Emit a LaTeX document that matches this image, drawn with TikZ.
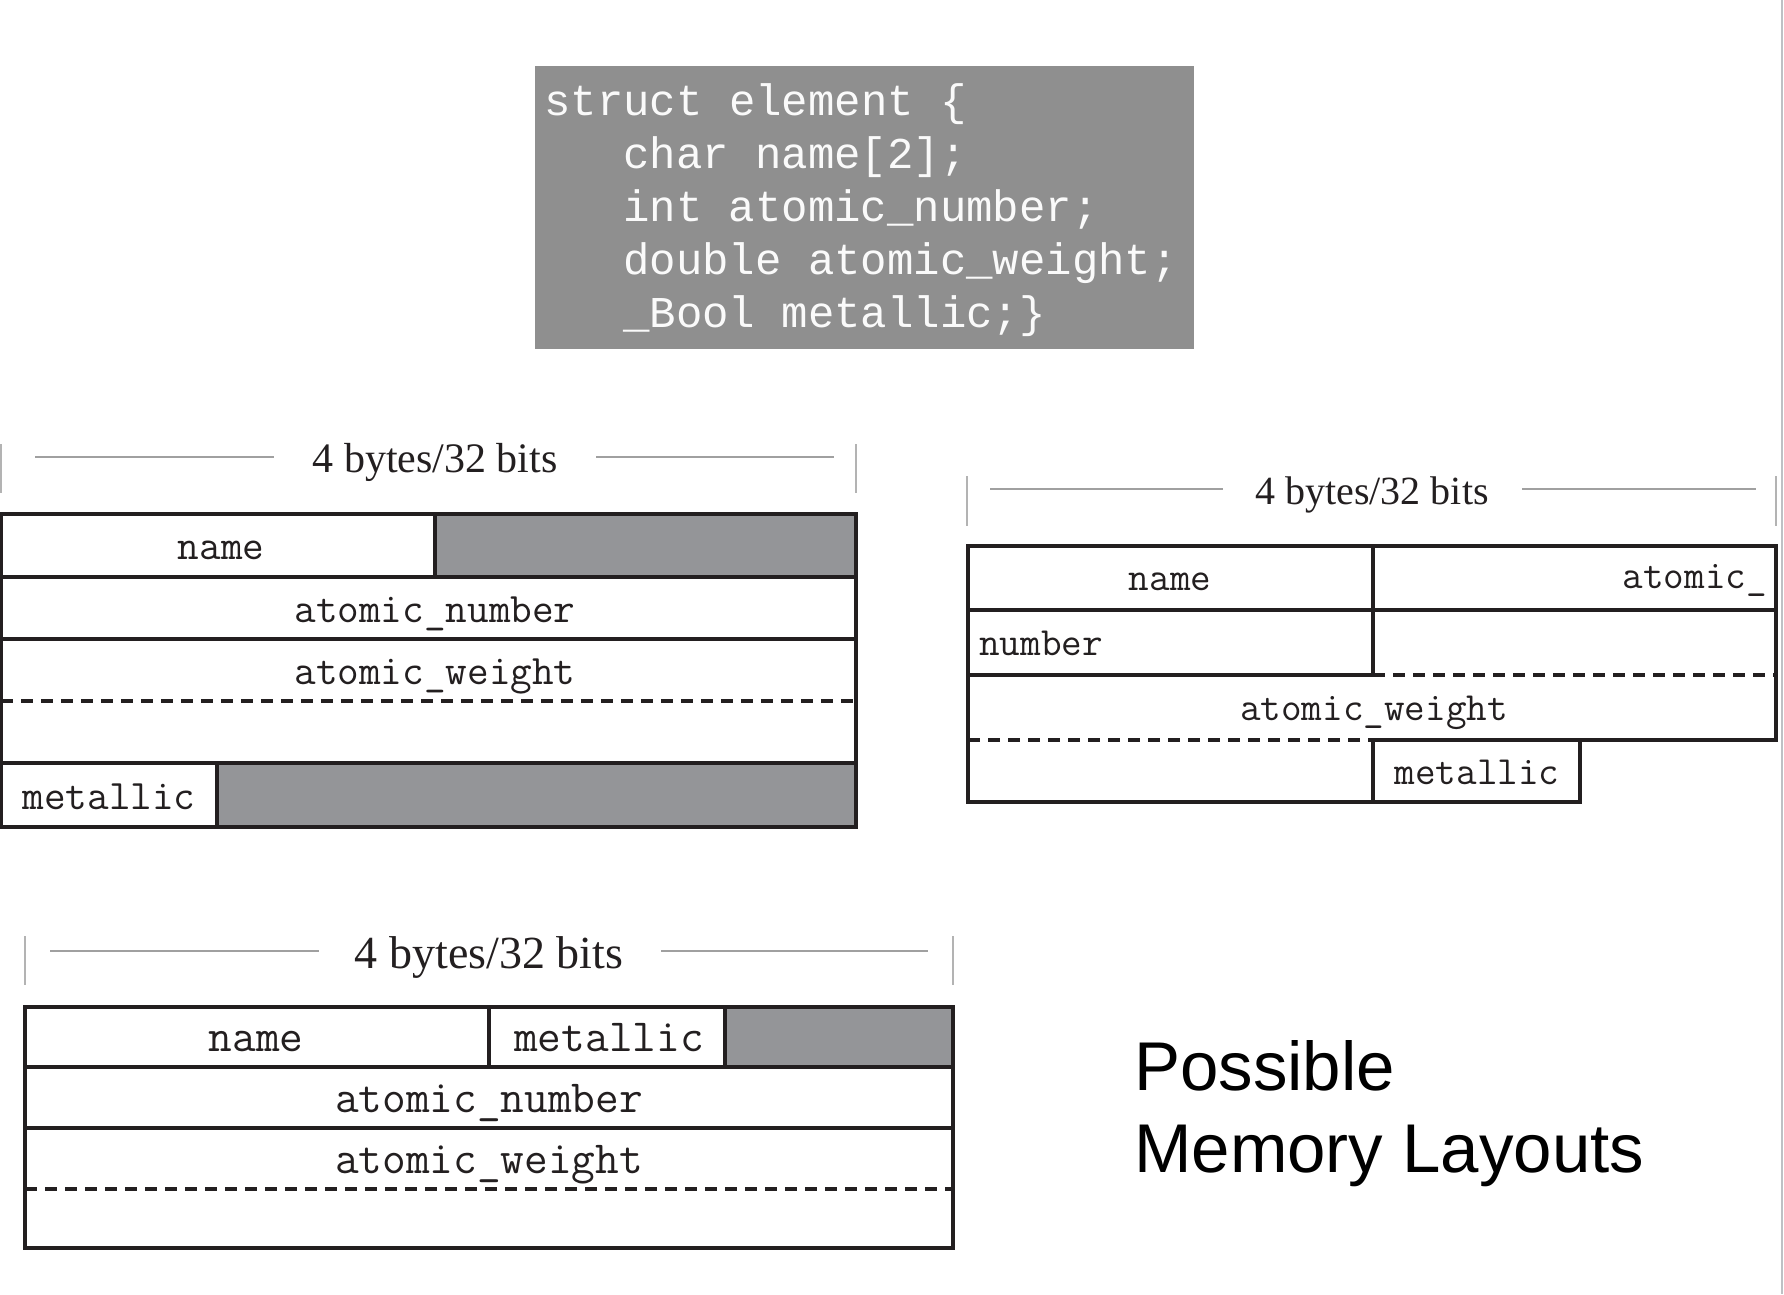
\documentclass[tikz,border=0pt]{standalone}
\usepackage{fontspec}
\newfontfamily\codefont{Liberation Mono}
\newfontfamily\dimfont{Liberation Serif}
\newfontfamily\titlefont{Liberation Sans}
\definecolor{codebg}{RGB}{143,143,143}
\definecolor{cellgray}{RGB}{148,149,152}
\definecolor{ink}{RGB}{35,31,32}
\definecolor{dimgray}{RGB}{160,160,160}
\definecolor{edgegray}{RGB}{190,192,196}
\tikzset{
  solidline/.style={draw=ink, line width=3.4pt, line cap=rect},
  dashline/.style={draw=ink, line width=3.4pt, dash pattern=on 12pt off 8pt},
  grayfill/.style={fill=cellgray},
  dimline/.style={draw=dimgray, line width=2pt},
  dimtick/.style={draw=dimgray!80, line width=2pt},
  dimlabel/.style={anchor=base, inner sep=0pt, font=\dimfont\fontsize{#1}{48}\selectfont, text=ink},
  dimlabel/.default=42,
  celltext/.style={anchor=base, inner sep=0pt, font=\ttfamily\fontsize{#1}{49}\selectfont, text=ink},
  celltext/.default=42,
  codetext/.style={anchor=base west, inner sep=0pt, font=\codefont\fontsize{44}{53}\selectfont, text=white!96!gray},
}
\begin{document}
\begin{tikzpicture}[x=1pt, y=-1pt]
\useasboundingbox (0,0) rectangle (1784,1294);
\fill[white] (0,0) rectangle (1784,1294);
\draw[edgegray, line width=2pt] (1782,0) -- (1782,1294);

% ---------- code box ----------
\fill[codebg] (535,66) rectangle (1194,349);
\node[codetext] (c1) at (544,115) {struct element \{};
\node[codetext] (c2) at (623,168) {char name[2];};
\node[codetext] (c3) at (623,221) {int atomic\_number;};
\node[codetext] (c4) at (623,274) {double atomic\_weight;};
\node[codetext] (c5) at (623,327) {\_Bool metallic;\}};

% ---------- layout 1 (top left) ----------
\draw[dimtick] (1,444) -- (1,493);
\draw[dimtick] (856,444) -- (856,493);
\draw[dimline] (35,457) -- (274,457);
\draw[dimline] (596,457) -- (834,457);
\node[dimlabel=42] (d1) at (435,472) {4 bytes/32 bits};

\fill[grayfill] (435,514) rectangle (856,577);
\fill[grayfill] (217,763) rectangle (856,827);
\draw[solidline] (1,514) rectangle (856,827);
\draw[solidline] (435,514) -- (435,577);
\draw[solidline] (1,577) -- (856,577);
\draw[solidline] (1,639) -- (856,639);
\draw[dashline] (1,701) -- (856,701);
\draw[solidline] (1,763) -- (856,763);
\draw[solidline] (217,763) -- (217,827);
\node[celltext=42] (a1) at (221,559) {name};
\node[celltext=42] (a2) at (435,622) {atomic\_number};
\node[celltext=42] (a3) at (435,684) {atomic\_weight};
\node[celltext=42] (a4) at (109,809) {metallic};

% ---------- layout 2 (top right) ----------
\draw[dimtick] (967,476) -- (967,526);
\draw[dimtick] (1776,476) -- (1776,526);
\draw[dimline] (990,489) -- (1223,489);
\draw[dimline] (1522,489) -- (1756,489);
\node[dimlabel=40] (d2) at (1372,504) {4 bytes/32 bits};

\draw[solidline] (968,546) -- (1776,546);
\draw[solidline] (968,546) -- (968,802);
\draw[solidline] (1776,546) -- (1776,740);
\draw[solidline] (1373,546) -- (1373,675);
\draw[solidline] (968,610) -- (1776,610);
\draw[solidline] (968,675) -- (1373,675);
\draw[dashline] (1373,675) -- (1776,675);
\draw[dashline] (968,740) -- (1373,740);
\draw[solidline] (1373,740) -- (1776,740);
\draw[solidline] (1373,740) -- (1373,802);
\draw[solidline] (1580,740) -- (1580,802);
\draw[solidline] (968,802) -- (1580,802);
\node[celltext=40] (b1) at (1170,590) {name};
\node[celltext=40, anchor=base east] (b2) at (1767,588) {atomic\_};
\node[celltext=40, anchor=base west] (b3) at (979,655) {number};
\node[celltext=40] (b4) at (1374,720) {atomic\_weight};
\node[celltext=40] (b5) at (1477,784) {metallic};

% ---------- layout 3 (bottom) ----------
\draw[dimtick] (25,936) -- (25,985);
\draw[dimtick] (953,936) -- (953,985);
\draw[dimline] (50,951) -- (319,951);
\draw[dimline] (661,951) -- (928,951);
\node[dimlabel=46] (d3) at (489,968) {4 bytes/32 bits};

\fill[grayfill] (725,1007) rectangle (953,1067);
\draw[solidline] (25,1007) rectangle (953,1248);
\draw[solidline] (489,1007) -- (489,1067);
\draw[solidline] (725,1007) -- (725,1067);
\draw[solidline] (25,1067) -- (953,1067);
\draw[solidline] (25,1128) -- (953,1128);
\draw[dashline] (25,1189) -- (953,1189);
\node[celltext=46] (e1) at (256,1051) {name};
\node[celltext=46] (e2) at (609,1051) {metallic};
\node[celltext=46] (e3) at (489,1112) {atomic\_number};
\node[celltext=46] (e4) at (489,1173) {atomic\_weight};

% ---------- title ----------
\node[anchor=base west, inner sep=0pt, font=\titlefont\fontsize{69}{82}\selectfont] (t1) at (1134,1090) {Possible};
\node[anchor=base west, inner sep=0pt, font=\titlefont\fontsize{69}{82}\selectfont] (t2) at (1134,1172) {Memory Layouts};
\end{tikzpicture}
\end{document}
